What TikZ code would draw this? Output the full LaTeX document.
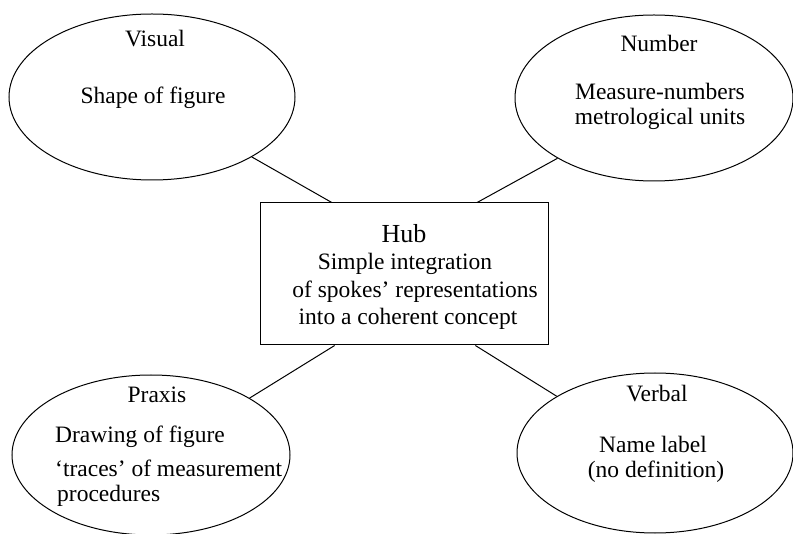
\documentclass[tikz,border=0pt]{standalone}
\usepackage{fontspec}
\setmainfont{Liberation Serif}
\usetikzlibrary{shapes.geometric,calc}
\begin{document}
\begin{tikzpicture}[x=1pt,y=-1pt,
  spoke/.style={draw, ellipse, line width=1pt, inner sep=0pt},
  link/.style={line width=1pt},
  txt/.style={font=\fontsize{23.5}{28}\selectfont, anchor=base, inner sep=0pt},
  hubtitle/.style={txt, font=\fontsize{26}{30}\selectfont},
]
\useasboundingbox (0,0) rectangle (793,534);
\node[spoke, minimum width=286pt, minimum height=166pt] (vis) at (152,97) {};
\node[spoke, minimum width=278pt, minimum height=166pt] (num) at (654,98) {};
\node[spoke, minimum width=278pt, minimum height=160pt] (prx) at (151,455) {};
\node[spoke, minimum width=276pt, minimum height=160pt] (vrb) at (655,453) {};
\node[draw, line width=1pt, minimum width=288pt, minimum height=142pt, inner sep=0pt] (hub) at (404,274) {};

\node[txt] (visT) at (155,47) {Visual};
\node[txt] (visB) at (153,104) {Shape of figure};
\node[txt] (numT) at (659,52) {Number};
\node[txt] (numB1) at (660,100) {Measure-numbers};
\node[txt] (numB2) at (660,125) {metrological units};
\node[txt] (prxT) at (157,403) {Praxis};
\node[txt, anchor=base west] (prxB1) at (55,443) {Drawing of figure};
\node[txt, anchor=base west] (prxB2) at (55,477) {‘traces’ of measurement};
\node[txt, anchor=base west] (prxB3) at (57,502) {procedures};
\node[txt] (vrbT) at (657,402) {Verbal};
\node[txt] (vrbB1) at (653,453) {Name label};
\node[txt] (vrbB2) at (656,478) {(no definition)};
\node[hubtitle] (hubT) at (404,243) {Hub};
\node[txt] (hubB1) at (405,270) {Simple integration};
\node[txt] (hubB2) at (415,298) {of spokes’ representations};
\node[txt] (hubB3) at (408,325) {into a coherent concept};

\draw[link] (vis.-31) -- ($(hub.north west)!0.25!(hub.north east)$);
\draw[link] (num.-148) -- ($(hub.north west)!0.753!(hub.north east)$);
\draw[link] (prx.30) -- ($(hub.south west)!0.26!(hub.south east)$);
\draw[link] (vrb.150) -- ($(hub.south west)!0.747!(hub.south east)$);
\end{tikzpicture}
\end{document}
